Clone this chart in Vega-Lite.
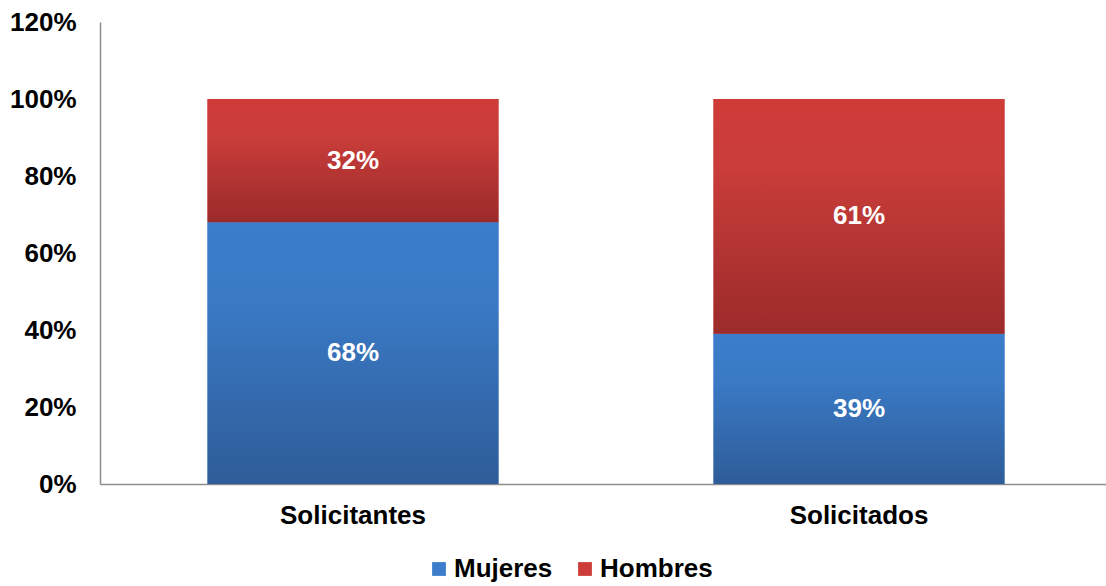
{
  "$schema": "https://vega.github.io/schema/vega-lite/v6.json",
  "width": 1012,
  "height": 462,
  "autosize": {"type": "none"},
  "padding": {"left": 100, "top": 22, "right": 0, "bottom": 102},
  "background": "white",
  "config": {"view": {"stroke": null}, "font": "Liberation Sans"},
  "data": {
    "values": [
      {"cat": "Solicitantes", "gender": "Mujeres", "value": 0.68},
      {"cat": "Solicitantes", "gender": "Hombres", "value": 0.32},
      {"cat": "Solicitados", "gender": "Mujeres", "value": 0.39},
      {"cat": "Solicitados", "gender": "Hombres", "value": 0.61}
    ]
  },
  "transform": [
    {"stack": "value", "groupby": ["cat"], "sort": [{"field": "gender", "order": "descending"}], "as": ["v0", "v1"]},
    {"calculate": "(datum.v0 + datum.v1) / 2", "as": "mid"}
  ],
  "encoding": {
    "x": {
      "field": "cat",
      "type": "nominal",
      "sort": ["Solicitantes", "Solicitados"],
      "scale": {"paddingInner": 0.425, "paddingOuter": 0.2125},
      "axis": {
        "title": null,
        "labelAngle": 0,
        "ticks": false,
        "domainColor": "#8c8c8c",
        "domainWidth": 1.5,
        "labelFontSize": 26,
        "labelFontWeight": "bold",
        "labelColor": "black",
        "labelPadding": 18
      }
    }
  },
  "layer": [
    {
      "mark": {"type": "bar"},
      "encoding": {
        "y": {
          "field": "v0",
          "type": "quantitative",
          "scale": {"domain": [0, 1.2]},
          "axis": {
            "title": null,
            "values": [0, 0.2, 0.4, 0.6, 0.8, 1.0, 1.2],
            "format": ".0%",
            "grid": false,
            "ticks": false,
            "domainColor": "#8c8c8c",
            "domainWidth": 1.5,
            "labelFontSize": 26,
            "labelFontWeight": "bold",
            "labelColor": "black",
            "labelPadding": 24
          }
        },
        "y2": {"field": "v1"},
        "color": {
          "field": "gender",
          "type": "nominal",
          "scale": {"domain": ["Mujeres", "Hombres"], "range": ["#3B7DCA", "#CE3C38"]},
          "legend": {
            "title": null,
            "orient": "none",
            "legendX": 326,
            "legendY": 534,
            "direction": "horizontal",
            "symbolType": "square",
            "symbolSize": 190,
            "symbolStrokeWidth": 0,
            "labelFontSize": 26,
            "labelFontWeight": "bold",
            "labelColor": "black",
            "labelOffset": 2,
            "columnPadding": 19
          }
        }
      }
    },
    {
      "transform": [{"filter": "datum.gender === 'Mujeres'"}],
      "mark": {
        "type": "bar",
        "fill": {
          "gradient": "linear",
          "x1": 0, "y1": 0, "x2": 0, "y2": 1,
          "stops": [
            {"offset": 0, "color": "#3B7DCA"},
            {"offset": 0.3, "color": "#3A7AC5"},
            {"offset": 1, "color": "#2E5C98"}
          ]
        }
      },
      "encoding": {
        "y": {"field": "v0", "type": "quantitative", "title": null},
        "y2": {"field": "v1"}
      }
    },
    {
      "transform": [{"filter": "datum.gender === 'Hombres'"}],
      "mark": {
        "type": "bar",
        "fill": {
          "gradient": "linear",
          "x1": 0, "y1": 0, "x2": 0, "y2": 1,
          "stops": [
            {"offset": 0, "color": "#CF3C38"},
            {"offset": 0.3, "color": "#C93D3A"},
            {"offset": 1, "color": "#9B2B2A"}
          ]
        }
      },
      "encoding": {
        "y": {"field": "v0", "type": "quantitative", "title": null},
        "y2": {"field": "v1"}
      }
    },
    {
      "mark": {"type": "text", "color": "white", "fontWeight": "bold", "fontSize": 26, "baseline": "middle"},
      "encoding": {
        "y": {"field": "mid", "type": "quantitative", "title": null},
        "text": {"field": "value", "type": "quantitative", "format": ".0%"}
      }
    }
  ]
}
